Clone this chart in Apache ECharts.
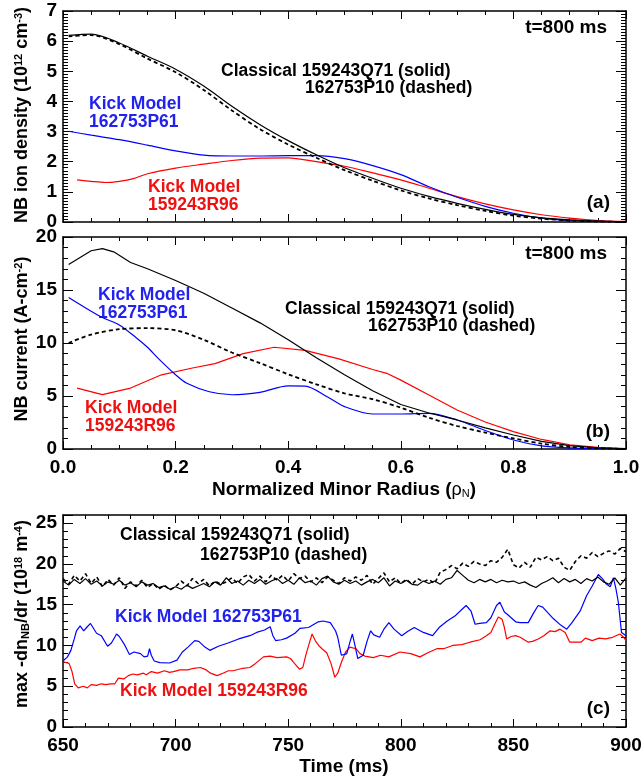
<!DOCTYPE html>
<html><head><meta charset="utf-8">
<script src="https://cdn.jsdelivr.net/npm/echarts@6/dist/echarts.min.js"></script>
<style>html,body{margin:0;padding:0;background:#fff}#c{width:641px;height:780px}</style>
</head><body><div id="c"></div>
<script>
// ---------- Panel (a): NB ion density vs rho ----------
const rhoDensBlack = [0.01,0.05,0.1,0.15,0.2,0.25,0.3,0.35,0.4,0.45,0.5,0.55,0.6,0.65,0.7,0.75,0.8,0.85,0.9,0.95,1.0];
const densClassicalSolid = [6.19,6.23,5.94,5.5,5.07,4.51,3.84,3.23,2.7,2.23,1.8,1.45,1.12,0.85,0.62,0.42,0.25,0.14,0.07,0.03,0.01];
const densClassicalDashed = [6.16,6.2,5.9,5.42,4.97,4.38,3.7,3.08,2.57,2.13,1.72,1.37,1.05,0.78,0.56,0.37,0.21,0.11,0.05,0.02,0.0];
const rhoDensBlue = [0.01,0.05,0.1,0.15,0.2,0.25,0.3,0.35,0.4,0.45,0.5,0.55,0.6,0.65,0.7,0.75,0.8,0.85,0.9,0.95,1.0];
const densKickBlue = [3.01,2.88,2.73,2.55,2.36,2.22,2.19,2.19,2.2,2.2,2.1,1.87,1.57,1.17,0.82,0.52,0.29,0.13,0.05,0.02,0.01];
const rhoDensRed = [0.025,0.05,0.075,0.1,0.125,0.15,0.2,0.25,0.3,0.35,0.4,0.45,0.5,0.55,0.6,0.65,0.7,0.75,0.8,0.85,0.9,0.95,1.0];
const densKickRed = [1.4,1.35,1.31,1.35,1.44,1.6,1.79,1.92,2.04,2.12,2.13,2.0,1.85,1.63,1.4,1.12,0.84,0.6,0.4,0.24,0.13,0.05,0.02];

// ---------- Panel (b): NB current vs rho ----------
const rhoCurSolid = [0.01,0.05,0.07,0.09,0.12,0.15,0.2,0.25,0.3,0.35,0.4,0.45,0.5,0.55,0.6,0.65,0.7,0.75,0.8,0.85,0.9,0.95,1.0];
const curClassicalSolid = [17.4,18.7,18.9,18.6,17.6,17.0,15.9,14.7,13.3,11.9,10.3,8.6,7.0,5.5,4.2,3.4,2.74,2.0,1.32,0.72,0.32,0.1,0.02];
const rhoCurDashed = [0.01,0.05,0.1,0.15,0.2,0.25,0.3,0.35,0.4,0.45,0.5,0.55,0.6,0.65,0.7,0.75,0.8,0.85,0.9,0.95,1.0];
const curClassicalDashed = [10.0,10.8,11.3,11.4,11.2,10.3,9.1,8.1,7.05,6.1,5.25,4.7,3.9,2.95,2.17,1.55,1.0,0.5,0.2,0.06,0.01];
const rhoCurBlue = [0.01,0.05,0.07,0.1,0.13,0.15,0.17,0.2,0.22,0.26,0.3,0.35,0.4,0.43,0.47,0.5,0.55,0.6,0.65,0.7,0.75,0.8,0.85,0.9,0.95,1.0];
const curKickBlue = [14.3,13.0,12.4,11.7,10.5,9.6,8.5,7.0,6.2,5.4,5.12,5.35,5.95,5.94,4.9,4.0,3.3,3.3,3.37,2.74,1.75,0.85,0.3,0.1,0.03,0.01];
const rhoCurRed = [0.025,0.07,0.12,0.175,0.23,0.27,0.32,0.375,0.43,0.49,0.55,0.575,0.6,0.65,0.7,0.75,0.8,0.85,0.9,0.95,1.0];
const curKickRed = [5.75,5.13,5.75,7.0,7.64,8.05,9.0,9.6,9.3,8.5,7.5,7.14,6.5,5.1,3.68,2.55,1.64,0.9,0.4,0.15,0.03];

// ---------- Panel (c): max -dn/dr vs time ----------
const tClassical = [650,652.5,655,657.5,660,662.5,665,667.5,670,672.5,675,677.5,680,682.5,685,687.5,690,692.5,695,697.5,700,702.5,705,707.5,710,712.5,715,717.5,720,722.5,725,727.5,730,732.5,735,737.5,740,742.5,745,747.5,750,752.5,755,757.5,760,762.5,765,767.5,770,772.5,775,777.5,780,782.5,785,787.5,790,792.5,795,797.5,800,802.5,805,807.5,810,812.5,815,817.5,820,822.5,825,827.5,830,832.5,835,837.5,840,842.5,845,847.5,850,852.5,855,857.5,860,862.5,865,867.5,870,872.5,875,877.5,880,882.5,885,887.5,890,892.5,895,897.5,900];
const gradClassicalSolid = [17.9,17.4,18.1,17.6,18.2,17.5,17.9,17.3,17.8,17.5,18.0,17.4,17.7,17.2,17.8,17.4,17.6,17.1,17.3,16.9,17.2,16.9,17.4,17.0,17.3,17.6,17.2,17.8,17.4,18.3,17.6,17.9,17.4,18.0,17.6,18.1,17.5,17.9,18.2,17.6,18.0,17.5,18.3,17.7,17.9,17.4,18.2,18.5,17.8,17.5,18.0,17.6,17.9,17.4,17.8,18.1,17.7,18.3,17.3,17.9,17.6,18.0,17.5,17.4,17.9,17.6,17.9,17.5,18.1,18.3,19.2,18.6,18.0,17.7,18.1,17.8,18.1,17.7,18.0,17.8,17.9,17.6,17.8,17.4,17.1,17.6,17.9,18.3,17.7,18.2,17.8,18.1,17.6,18.2,17.9,18.4,17.8,17.5,18.3,17.4,18.3];
const gradClassicalDashed = [18.2,17.5,18.6,17.9,18.8,17.6,18.4,17.2,18.1,17.4,18.3,17.0,17.8,17.3,18.0,17.1,17.6,16.9,17.4,16.8,17.2,17.9,17.3,18.2,17.6,18.1,17.3,17.9,17.5,17.8,18.3,17.6,18.4,18.7,17.9,18.5,17.8,18.6,18.0,18.6,17.9,18.8,18.2,18.5,17.8,18.3,17.7,18.4,18.0,17.6,18.3,17.9,18.4,18.0,18.6,17.5,18.2,18.9,17.8,18.3,17.6,18.1,17.5,18.2,17.8,18.1,17.6,19.0,19.3,19.8,19.4,20.1,19.7,20.3,20.0,19.8,20.4,20.2,20.8,21.8,19.9,19.5,20.2,19.6,20.8,20.5,20.9,20.4,20.7,19.6,19.2,20.3,21.0,20.7,21.4,20.9,21.3,21.6,21.2,21.9,21.5];
const tKickBlue = [650,652,653.5,655,656,657.6,659.2,660.5,662.2,664.9,667,669.8,671.5,673.8,675,677.1,679.5,681.5,684.4,686,687.6,688.4,689.2,690.5,693,697.3,700.6,703,705.5,708.5,710.3,713,715.2,719,723.3,728,733,736,739.5,742,743.2,744.4,747,749.3,753,755.2,759,763.4,765.5,768.7,771,772,773.6,775,776,777.5,778.5,779.5,780.9,783.3,785,786.6,788,790.6,792.5,794.7,797,800.4,803,806,810,814.1,817,820.6,824,827.8,829,831.2,833,835,838,840,842.5,844,846,847.4,849,851,853,856.6,859,861,863,867.7,871,873.7,876,879.6,882.5,885,887.7,889.5,891.4,893,894.4,895.5,896.6,898,900];
const gradKickBlue = [8.1,8.6,9.4,10.8,11.8,12.4,11.8,12.2,12.7,11.5,11.2,9.9,10.3,11.4,11.1,10.2,8.9,9.2,9.0,8.6,8.7,9.6,8.8,8.1,7.9,7.85,8.2,9.2,9.8,10.6,10.5,9.8,9.4,9.9,10.3,10.8,11.2,11.6,11.9,12.3,11.2,10.6,10.7,10.9,11.5,12.1,12.2,12.9,13.0,12.8,11.8,11.0,8.8,8.9,9.0,10.5,11.4,10.2,8.4,8.8,10.5,11.8,11.3,11.0,12.0,12.8,12.0,11.2,11.7,12.2,11.6,11.2,12.2,13.0,13.6,14.6,14.9,14.2,12.6,12.7,12.8,13.4,14.9,15.3,14.1,13.8,13.4,12.9,12.8,12.8,14.0,14.9,14.7,13.3,12.5,12.0,12.8,14.2,16.1,17.3,18.7,18.2,17.5,17.2,18.3,17.0,15.3,11.6,11.2];
const tKickRed = [650,652.7,654,655.2,656.8,657.6,659,660.8,662.5,664.9,667,669,671,673,674.6,677,679,681.1,683,685.7,687,689.2,692,695,697.3,699,702,705.5,708,711,713.6,715.5,718.4,721,723.5,725.6,729.8,733,735.5,739,742,745,749.3,751,752.5,755,756.5,758,759.7,760.6,762,763.5,765,767.1,769,770.7,772,773.7,775.5,777.4,780.1,781.9,784,787.8,791,794.7,799.6,804.4,808.5,812,816,819,823,827.1,830.7,835.2,838,840,841.7,843.3,845,846,847,849,851,853,856.6,858.5,861,863.5,866.3,868.5,870.7,873,875,877,880,882,885,888,891,894,897.3,899,900];
const gradKickRed = [8.0,7.8,6.8,5.3,4.8,4.7,5.0,4.8,5.2,5.1,5.3,5.2,5.3,5.3,6.0,5.9,6.3,6.5,6.4,6.6,6.4,6.8,6.6,6.9,6.7,6.8,7.0,7.0,7.2,7.3,7.0,6.6,6.3,6.6,6.9,6.9,7.2,7.3,7.8,8.6,8.7,8.5,8.6,8.4,7.9,7.1,7.3,9.0,10.6,11.4,10.6,10.0,9.6,9.1,7.8,6.1,6.6,8.0,9.2,9.8,9.6,9.0,8.7,8.5,8.8,8.6,9.2,9.0,8.6,9.1,9.6,9.6,10.0,10.1,10.4,10.7,11.2,11.6,12.6,13.5,13.2,12.2,10.8,11.1,11.2,11.0,10.4,10.5,10.8,11.2,11.8,11.7,12.0,11.6,10.4,10.4,10.4,10.9,10.6,10.9,10.8,11.0,11.4,11.0,10.6];

// ---------- Tick labels ----------
const yTicksA = [0,1,2,3,4,5,6,7];
const yTicksB = [0,5,10,15,20];
const yTicksC = [0,5,10,15,20,25];
const xTicksRho = [0.0,0.2,0.4,0.6,0.8,1.0];
const xTicksTime = [650,700,750,800,850,900];

const F = '"Liberation Sans", Arial, Helvetica, sans-serif';
const BLUE = '#0000ff', RED = '#ff0000', BLUE_T = '#2222ee', RED_T = '#ee1111';
const pairs = (xs, ys) => xs.map((x, i) => [x, ys[i]]);

const G = [
  {left: 63, width: 563, top: 11, height: 211},
  {left: 63, width: 563, top: 237, height: 212},
  {left: 63, width: 563, top: 515, height: 212}
];
const grids = G.map(g => Object.assign({show: false, outerBoundsMode: 'none', containLabel: false}, g));

const lab = {fontFamily: F, fontWeight: 'bold', fontSize: 19, color: '#000'};
function xAx(gi, pos, min, max, interval, minorSplit, labels) {
  return {
    type: 'value', gridIndex: gi, position: pos, min, max, interval,
    axisLine: {show: true, onZero: false, lineStyle: {color: '#000', width: 1.5}},
    axisTick: {show: true, inside: true, length: 8, lineStyle: {color: '#000', width: 1}},
    minorTick: {show: true, splitNumber: minorSplit, length: 4, lineStyle: {color: '#000', width: 1}},
    splitLine: {show: false}, minorSplitLine: {show: false},
    axisLabel: labels ? Object.assign({show: true, margin: 9, formatter: labels, hideOverlap: false, showMinLabel: true, showMaxLabel: true}, lab) : {show: false}
  };
}
function yAx(gi, pos, min, max, interval, opts) {
  const o = opts || {};
  return {
    type: 'value', gridIndex: gi, position: pos, min, max, interval,
    axisLine: {show: o.line !== false, onZero: false, lineStyle: {color: '#000', width: 1.5}},
    axisTick: {show: true, inside: true, length: o.tickLen || 10, lineStyle: {color: '#000', width: 1}},
    minorTick: {show: !!o.minor, splitNumber: o.minor || 5, length: 5, lineStyle: {color: '#000', width: 1}},
    splitLine: {show: false}, minorSplitLine: {show: false},
    axisLabel: o.labels ? Object.assign({show: true, margin: 6, formatter: o.labels, hideOverlap: false, showMinLabel: true, showMaxLabel: true}, lab) : {show: false}
  };
}
const fmtRho = v => xTicksRho.some(t => Math.abs(t - v) < 1e-9) ? v.toFixed(1) : '';
const fmtTime = v => xTicksTime.includes(v) ? String(v) : '';
const fmtA = v => yTicksA.includes(v) ? String(v) : '';
const fmtB = v => yTicksB.includes(v) ? String(v) : '';
const fmtC = v => yTicksC.includes(v) ? String(v) : '';

const xAxes = [
  xAx(0, 'bottom', 0, 1, 0.2, 4, null),
  xAx(0, 'top', 0, 1, 0.2, 4, null),
  xAx(1, 'bottom', 0, 1, 0.2, 4, fmtRho),
  xAx(1, 'top', 0, 1, 0.2, 4, null),
  xAx(2, 'bottom', 650, 900, 50, 5, fmtTime),
  xAx(2, 'top', 650, 900, 50, 5, null)
];
const yAxes = [
  yAx(0, 'left', 0, 7, 1, {minor: 10, labels: fmtA}),
  yAx(0, 'right', 0, 7, 1, {minor: 10}),
  yAx(1, 'left', 0, 20, 5, {minor: 5, labels: fmtB}),
  yAx(1, 'right', 0, 20, 5, {minor: 5}),
  yAx(2, 'left', 0, 26, 5, {labels: fmtC}),
  yAx(2, 'right', 0, 26, 5, {}),
  yAx(2, 'left', 0, 26, 1, {line: false, tickLen: 5}),
  yAx(2, 'right', 0, 26, 1, {line: false, tickLen: 5})
];

function line(xi, yi, data, color, dashed, w, smooth) {
  return {
    type: 'line', xAxisIndex: xi, yAxisIndex: yi, data, showSymbol: false, symbol: 'none',
    smooth: smooth || false, clip: true, silent: true, animation: false,
    lineStyle: {color, width: w || (dashed ? 1.8 : 1.2), type: dashed ? [4, 3] : 'solid'}
  };
}
const series = [
  line(0, 0, pairs(rhoDensRed, densKickRed), RED, false, null, 0.3),
  line(0, 0, pairs(rhoDensBlue, densKickBlue), BLUE, false, null, 0.3),
  line(0, 0, pairs(rhoDensBlack, densClassicalDashed), '#000', true, null, 0.3),
  line(0, 0, pairs(rhoDensBlack, densClassicalSolid), '#000', false, null, 0.3),
  line(2, 2, pairs(rhoCurRed, curKickRed), RED),
  line(2, 2, pairs(rhoCurBlue, curKickBlue), BLUE, false, null, 0.3),
  line(2, 2, pairs(rhoCurDashed, curClassicalDashed), '#000', true, null, 0.3),
  line(2, 2, pairs(rhoCurSolid, curClassicalSolid), '#000'),
  line(4, 4, pairs(tKickRed, gradKickRed), RED),
  line(4, 4, pairs(tKickBlue, gradKickBlue), BLUE),
  line(4, 4, pairs(tClassical, gradClassicalDashed), '#000', true, 1.6),
  line(4, 4, pairs(tClassical, gradClassicalSolid), '#000')
];

function T(x, y, text, color, size, align) {
  return {
    type: 'text', x, y, silent: true,
    style: {text, fill: color || '#000', font: 'bold ' + (size || 17.5) + 'px ' + F,
            fontFamily: F, fontWeight: 'bold', fontSize: size || 17.5,
            align: align || 'left', textAlign: align || 'left', verticalAlign: 'middle', textVerticalAlign: 'middle'}
  };
}
function R(x, y, text, rich, rot) {
  return {
    type: 'text', x, y, rotation: rot || 0, silent: true,
    style: {text, rich, fill: '#000', fontFamily: F, fontWeight: 'bold', fontSize: 18,
            align: 'center', textAlign: 'center', verticalAlign: 'middle', textVerticalAlign: 'middle'}
  };
}
const richY = {
  n: {fontFamily: F, fontWeight: 'bold', fontSize: 18, fill: '#000'},
  s: {fontFamily: F, fontWeight: 'bold', fontSize: 11, fill: '#000', verticalAlign: 'top'},
  b: {fontFamily: F, fontWeight: 'bold', fontSize: 11, fill: '#000', verticalAlign: 'bottom'}
};
const richX = {
  n: {fontFamily: F, fontWeight: 'bold', fontSize: 19, fill: '#000'},
  g: {fontFamily: F, fontWeight: 'normal', fontSize: 18, fill: '#000'},
  b: {fontFamily: F, fontWeight: 'normal', fontSize: 11, fill: '#000', verticalAlign: 'bottom'}
};

const graphics = [
  // panel (a)
  T(607, 28, 't=800 ms', '#000', 19, 'right'),
  T(221, 71, 'Classical 159243Q71 (solid)'),
  T(305, 88, '162753P10 (dashed)'),
  T(89, 104, 'Kick Model', BLUE_T),
  T(89, 122, '162753P61', BLUE_T),
  T(148, 187, 'Kick Model', RED_T),
  T(148, 205, '159243R96', RED_T),
  T(610, 203, '(a)', '#000', 19, 'right'),
  // panel (b)
  T(607, 254, 't=800 ms', '#000', 19, 'right'),
  T(285, 309, 'Classical 159243Q71 (solid)'),
  T(368, 326, '162753P10 (dashed)'),
  T(98, 295, 'Kick Model', BLUE_T),
  T(98, 313, '162753P61', BLUE_T),
  T(85, 408, 'Kick Model', RED_T),
  T(85, 426, '159243R96', RED_T),
  T(610, 432, '(b)', '#000', 19, 'right'),
  // panel (c)
  T(120, 535, 'Classical 159243Q71 (solid)'),
  T(200, 555, '162753P10 (dashed)'),
  T(115, 617, 'Kick Model 162753P61', BLUE_T),
  T(120, 691, 'Kick Model 159243R96', RED_T),
  T(610, 709, '(c)', '#000', 19, 'right'),
  // axis titles
  R(22, 115, '{n|NB ion density (10}{s|12}{n| cm}{s|-3}{n|)}', richY, Math.PI / 2),
  R(22, 339, '{n|NB current (A-cm}{s|-2}{n|)}', richY, Math.PI / 2),
  R(22, 614, '{n|max -dn}{b|NB}{n|/dr (10}{s|18}{n| m}{s|-4}{n|)}', richY, Math.PI / 2),
  R(344, 490, '{n|Normalized Minor Radius (}{g|ρ}{b|N}{n|)}', richX),
  R(344, 767, '{n|Time (ms)}', richX)
];

const chart = echarts.init(document.getElementById('c'), null, {renderer: 'canvas', width: 641, height: 780});
chart.setOption({
  backgroundColor: '#fff',
  animation: false,
  grid: grids,
  xAxis: xAxes,
  yAxis: yAxes,
  series,
  graphic: {elements: graphics}
});
</script></body></html>
